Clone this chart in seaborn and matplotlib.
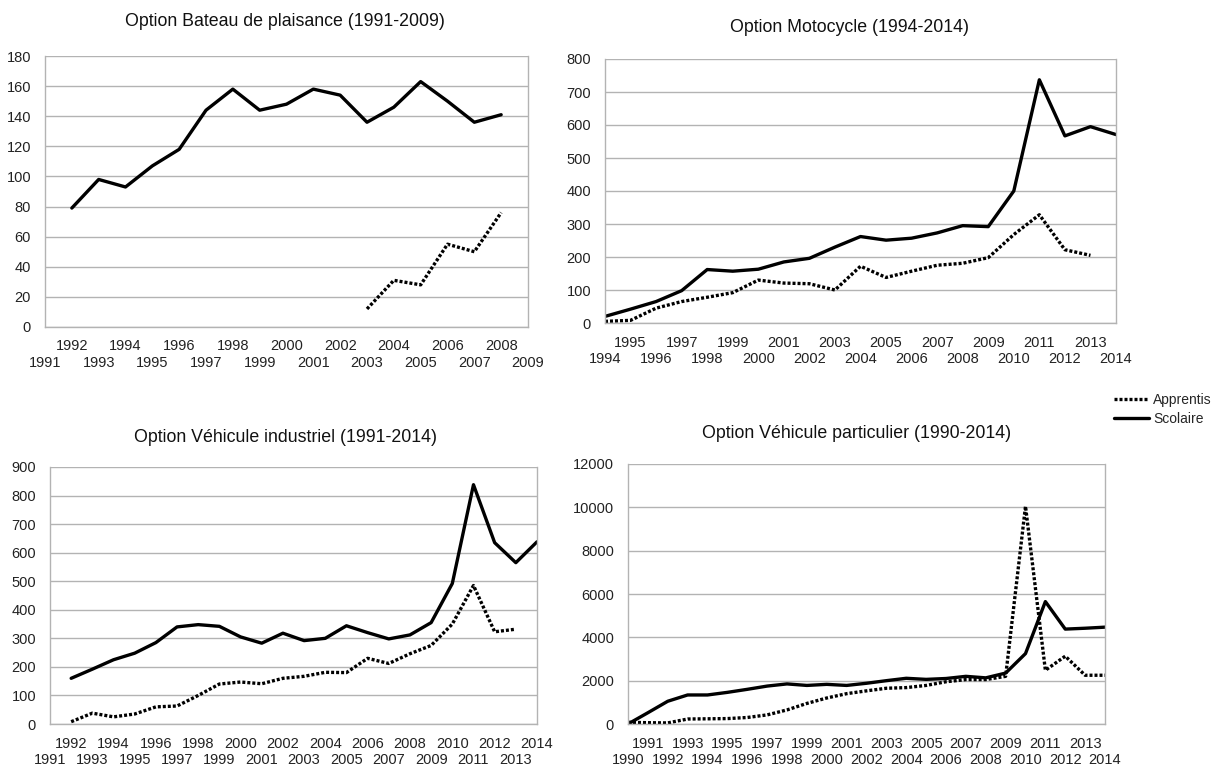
import seaborn as sns
import matplotlib.pyplot as plt

# years and counts
bateau_years = list(range(1992, 2009))
bateau_scolaire = [79, 98, 93, 107, 118, 144, 158, 144, 148, 158, 154, 136, 146, 163, 150, 136, 141]
bateau_app_years = list(range(2003, 2009))
bateau_apprentis = [12, 31, 28, 55, 50, 76]

moto_years = list(range(1994, 2015))
moto_scolaire = [20, 42, 65, 98, 162, 157, 163, 185, 196, 230, 262, 251, 257, 273, 295, 292, 400, 737, 567, 595, 571]
moto_app_years = list(range(1994, 2014))
moto_apprentis = [5, 8, 45, 65, 78, 92, 130, 121, 119, 100, 172, 138, 157, 175, 181, 198, 268, 328, 222, 205]

indus_years = list(range(1992, 2015))
indus_scolaire = [160, 192, 225, 248, 285, 340, 348, 342, 305, 283, 318, 292, 300, 344, 320, 298, 312, 355, 492, 838, 635, 565, 638]
indus_app_years = list(range(1992, 2014))
indus_apprentis = [8, 38, 25, 35, 60, 63, 100, 140, 147, 141, 160, 167, 181, 180, 230, 212, 246, 275, 350, 485, 323, 332]

partic_years = list(range(1990, 2015))
partic_scolaire = [0, 520, 1050, 1340, 1340, 1460, 1600, 1750, 1850, 1780, 1830, 1780, 1880, 2000, 2110, 2060, 2100, 2200, 2130, 2350, 3250, 5650, 4380, 4420, 4470]
partic_apprentis = [80, 60, 50, 230, 240, 250, 300, 420, 650, 950, 1200, 1400, 1530, 1650, 1680, 1780, 1950, 2050, 2050, 2200, 10050, 2480, 3130, 2250, 2250]

titles = ["Option Bateau de plaisance (1991-2009)", "Option Motocycle (1994-2014)",
          "Option Véhicule industriel (1991-2014)", "Option Véhicule particulier (1990-2014)"]

sns.set_style("white")
plt.rcParams['font.family'] = ['Liberation Sans', 'DejaVu Sans']

GRAY = "#b3b3b3"
W, H = 1216, 765
fig = plt.figure(figsize=(W / 100, H / 100), dpi=100)

def box(l, t, r, b):
    return [l / W, 1 - b / H, (r - l) / W, (b - t) / H]

panels = [
    dict(pos=box(45, 56, 528, 327), xr=(1991, 2009), ymax=180, ystep=20,
         sy=bateau_years, s=bateau_scolaire, ay=bateau_app_years, a=bateau_apprentis, title=(285, 22)),
    dict(pos=box(605, 59, 1116, 323), xr=(1994, 2014), ymax=800, ystep=100,
         sy=moto_years, s=moto_scolaire, ay=moto_app_years, a=moto_apprentis, title=(850, 28)),
    dict(pos=box(50, 467, 537, 724), xr=(1991, 2014), ymax=900, ystep=100,
         sy=indus_years, s=indus_scolaire, ay=indus_app_years, a=indus_apprentis, title=(285, 437)),
    dict(pos=box(628, 464, 1105, 724), xr=(1990, 2014), ymax=12000, ystep=2000,
         sy=partic_years, s=partic_scolaire, ay=partic_years, a=partic_apprentis, title=(857, 433)),
]

for i, p in enumerate(panels):
    ax = fig.add_axes(p["pos"])
    sns.lineplot(x=p["ay"], y=p["a"], ax=ax, color="black", lw=2.4,
                 linestyle=(0, (0.9, 0.6)), dash_capstyle="butt", label="Apprentis")
    sns.lineplot(x=p["sy"], y=p["s"], ax=ax, color="black", lw=2.4, label="Scolaire")
    if ax.get_legend():
        ax.get_legend().remove()
    x0, x1 = p["xr"]
    ax.set_xlim(x0, x1)
    ax.set_ylim(0, p["ymax"])
    ax.set_yticks(range(0, p["ymax"] + 1, p["ystep"]))
    years = list(range(x0, x1 + 1))
    ax.set_xticks(years[1::2])
    ax.set_xticklabels([str(y) for y in years[1::2]])
    ax.set_xticks(years[0::2], minor=True)
    ax.set_xticklabels([str(y) for y in years[0::2]], minor=True)
    ax.tick_params(axis="both", which="both", direction="out", length=6, width=1,
                   color=GRAY, labelcolor="#222222", labelsize=10.5)
    ax.tick_params(axis="x", which="major", pad=3)
    ax.tick_params(axis="x", which="minor", pad=15)
    ax.tick_params(axis="y", pad=4)
    ax.grid(axis="y", color=GRAY, lw=1)
    for sp in ax.spines.values():
        sp.set_color(GRAY)
        sp.set_linewidth(1)
    ax.spines["top"].set_visible(False)
    ax.set_xlabel("")
    ax.set_ylabel("")
    tx, ty = p["title"]
    fig.text(tx / W, 1 - ty / H, titles[i], ha="center", va="center", fontsize=12.8, color="#111111")
    if i == 1:
        handles, labels = ax.get_legend_handles_labels()

fig.legend(handles, labels, loc="upper left", bbox_to_anchor=(1114 / W, 1 - 393 / H),
           frameon=False, handlelength=2.5, fontsize=10, labelspacing=0.38,
           handletextpad=0.3, borderaxespad=0, borderpad=0)

fig.savefig("out.png", dpi=100)
